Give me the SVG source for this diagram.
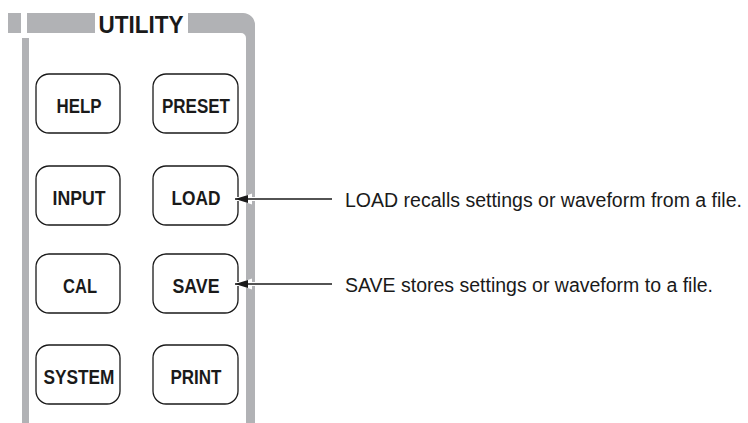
<svg xmlns="http://www.w3.org/2000/svg" width="748" height="423" viewBox="0 0 748 423">
<style>
.bar{fill:#b1b2b5}
.btn{fill:#fff;stroke:#1a1a1a;stroke-width:1.3}
.bt{font-family:"Liberation Sans",Arial,sans-serif;font-weight:bold;font-size:21px;fill:#1a1a1a;text-anchor:middle}
.lbl{font-family:"Liberation Sans",Arial,sans-serif;font-size:19.5px;fill:#1a1a1a}
.ln{stroke:#1a1a1a;stroke-width:1.3;fill:none}
.halo{stroke:#fff;stroke-width:4;fill:none}
</style>
<defs>
<marker id="ah" markerWidth="14" markerHeight="10" refX="13" refY="5" orient="auto" markerUnits="userSpaceOnUse">
<path d="M0,1 L13,5 L0,9 Z" fill="#1a1a1a"/>
</marker>
<marker id="ahw" markerWidth="18" markerHeight="14" refX="15" refY="7" orient="auto" markerUnits="userSpaceOnUse">
<path d="M0,1.5 L16,7 L0,12.5 Z" fill="#fff"/>
</marker>
</defs>
<g id="panel">
<rect class="bar" x="8" y="13" width="13" height="20"/>
<rect class="bar" x="27" y="13" width="68" height="20"/>
<path class="bar" d="M188,13 H243 A12,12 0 0 1 255,25 V423 H246 V38 A5,5 0 0 0 241,33 H188 Z"/>
<rect class="bar" x="22" y="38" width="7" height="385"/>
<text x="141" y="33" font-family="Liberation Sans,Arial,sans-serif" font-weight="bold" font-size="23.5" fill="#1a1a1a" text-anchor="middle" textLength="85" lengthAdjust="spacingAndGlyphs">UTILITY</text>
</g>
<g id="help"><rect class="btn" x="36" y="74" width="84" height="59" rx="13"/><text class="bt" x="79" y="113" textLength="45" lengthAdjust="spacingAndGlyphs">HELP</text></g>
<g id="preset"><rect class="btn" x="153" y="74" width="85" height="59" rx="13"/><text class="bt" x="196" y="113" textLength="68" lengthAdjust="spacingAndGlyphs">PRESET</text></g>
<g id="input"><rect class="btn" x="36" y="166" width="84" height="59" rx="13"/><text class="bt" x="79" y="205" textLength="53" lengthAdjust="spacingAndGlyphs">INPUT</text></g>
<g id="load"><rect class="btn" x="153" y="166" width="85" height="59" rx="13"/><text class="bt" x="196" y="205" textLength="49" lengthAdjust="spacingAndGlyphs">LOAD</text></g>
<g id="cal"><rect class="btn" x="36" y="254" width="84" height="59" rx="13"/><text class="bt" x="80" y="293" textLength="34" lengthAdjust="spacingAndGlyphs">CAL</text></g>
<g id="save"><rect class="btn" x="153" y="254" width="85" height="59" rx="13"/><text class="bt" x="196" y="293" textLength="47" lengthAdjust="spacingAndGlyphs">SAVE</text></g>
<g id="system"><rect class="btn" x="36" y="345" width="84" height="59" rx="13"/><text class="bt" x="79" y="384" textLength="71" lengthAdjust="spacingAndGlyphs">SYSTEM</text></g>
<g id="print"><rect class="btn" x="153" y="345" width="85" height="59" rx="13"/><text class="bt" x="196" y="384" textLength="51" lengthAdjust="spacingAndGlyphs">PRINT</text></g>
<g id="connectors">
<line class="halo" x1="330" y1="199" x2="237" y2="199" marker-end="url(#ahw)"/>
<line class="ln" x1="332" y1="199" x2="235" y2="199" marker-end="url(#ah)"/>
<line class="halo" x1="330" y1="284" x2="237" y2="284" marker-end="url(#ahw)"/>
<line class="ln" x1="332" y1="284" x2="235" y2="284" marker-end="url(#ah)"/>
</g>
<g id="labels">
<text class="lbl" x="345" y="207" textLength="397" lengthAdjust="spacingAndGlyphs">LOAD recalls settings or waveform from a file.</text>
<text class="lbl" x="345" y="292" textLength="368" lengthAdjust="spacingAndGlyphs">SAVE stores settings or waveform to a file.</text>
</g>
</svg>
